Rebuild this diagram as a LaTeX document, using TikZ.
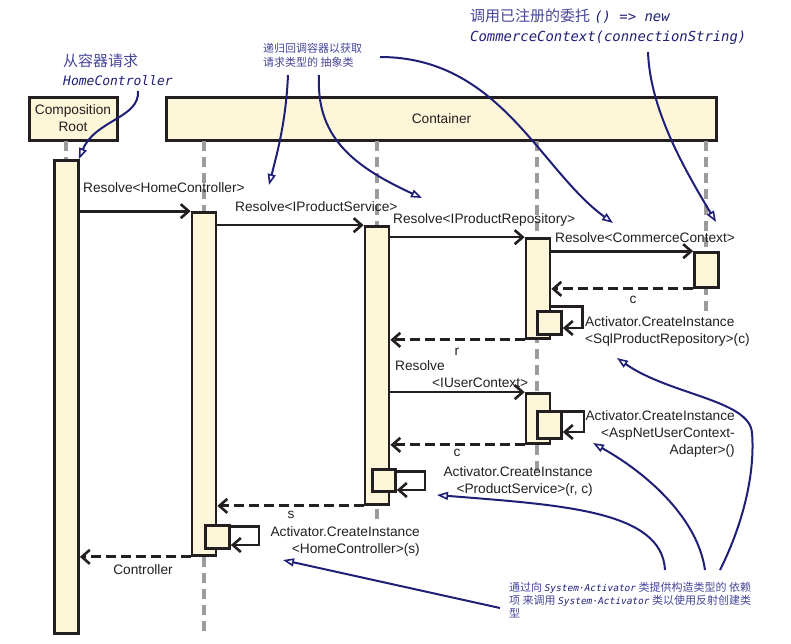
\documentclass[tikz,border=0pt]{standalone}
\usepackage{fontspec}
\setmainfont{Liberation Sans}
\newfontfamily\cjk{Noto Sans CJK SC}
\newfontfamily\hand{DejaVu Sans Mono}
\usepackage{tikz}
\usetikzlibrary{arrows.meta, positioning, calc}
\definecolor{ink}{HTML}{231F20}
\definecolor{cream}{HTML}{FDF6D8}
\definecolor{navy}{HTML}{1F1F78}
\definecolor{notetxt}{HTML}{45459A}
\definecolor{lifegray}{HTML}{9B9B9B}
\newcommand\handcode[2]{{\hand\itshape\fontsize{#1}{#1}\selectfont\color{navy}#2}}

\begin{document}
\begin{tikzpicture}[x=1pt, y=-1pt, font=\fontsize{13.7}{17}\selectfont, text=ink,
    head/.style={-{Straight Barb[length=8pt, width=14pt, line width=2.6pt]}},
    obj/.style={draw=ink, line width=3pt, fill=cream, align=center},
    bar/.style={draw=ink, line width=2.7pt, fill=cream, minimum width=24pt, inner sep=0pt},
    life/.style={draw=lifegray, line width=3.5pt, dash pattern=on 10pt off 6pt},
    call/.style={draw=ink, line width=2pt, head},
    ret/.style={draw=ink, line width=3pt, dash pattern=on 10pt off 5pt, head},
    self/.style={draw=ink, line width=2.7pt, head},
    lbl/.style={inner sep=0pt, align=left},
    note/.style={draw=navy, line width=2pt, -{Triangle[open, length=11pt, width=8pt, line width=1.6pt]}},
    notetext/.style={text=notetxt, align=left, inner sep=0pt, anchor=west}]

    \useasboundingbox (0,0) rectangle (791,643);

    \node[obj, minimum width=88pt, minimum height=43pt] (cr) at (73,118.5) {Composition\\Root};
    \node[obj, minimum width=550pt, minimum height=43pt] (ct) at (441.5,119) {Container};

    \draw[life] (66,141) -- (66,630);
    \draw[life] (204,141) -- (204,632);
    \draw[life] (377,141) -- (377,520);
    \draw[life] (537,141) -- (537,473);
    \draw[life] (706,141) -- (706,313);

    \node[bar, minimum height=473pt] (rootbar) at (66.5,397) {};
    \node[bar, minimum height=343pt] (hcbar) at (204,384) {};
    \node[bar, minimum height=278pt] (psbar) at (377,365.5) {};
    \node[bar, minimum height=100pt] (prbar) at (538,288.5) {};
    \node[bar, minimum height=35pt] (ccbar) at (706.5,270) {};
    \node[bar, minimum height=50pt] (ucbar) at (538,418.5) {};
    \node[bar, minimum height=23pt] (sqlnew) at (549.5,323) {};
    \node[bar, minimum height=27pt] (ucnew) at (549.5,425) {};
    \node[bar, minimum width=23pt, minimum height=22pt] (psnew) at (384,480.5) {};
    \node[bar, minimum height=23pt] (hcnew) at (217.5,537) {};

    \draw[call, line width=3pt] (rootbar.east |- hcbar.north) -- (hcbar.north west);
    \node[lbl, anchor=west] (rhc) at (83,188) {Resolve<HomeController>};
    \draw[call] (hcbar.east |- psbar.north) -- (psbar.north west);
    \node[lbl, anchor=west] (rps) at (235,207) {Resolve<IProductService>};
    \draw[call] (psbar.east |- prbar.north) -- (prbar.north west);
    \node[lbl, anchor=west] (rpr) at (393,220) {Resolve<IProductRepository>};
    \draw[call, line width=3pt] (prbar.east |- ccbar.north) -- (ccbar.north west);
    \node[lbl, anchor=west] (rcc) at (555,238) {Resolve<CommerceContext>};
    \draw[ret] (ccbar.south west) -- (prbar.east |- ccbar.south);
    \node[lbl] (retc1) at (633,300) {c};
    \draw[self] ([yshift=4pt]sqlnew.north -| prbar.east) -- ++(31,0) |- ([yshift=-5pt]sqlnew.east);
    \node[lbl, anchor=west] (newsql) at (585,331) {Activator.CreateInstance\\<SqlProductRepository>(c)};
    \draw[ret] (prbar.south west) -- (psbar.east |- prbar.south);
    \node[lbl] (retr) at (457,352) {r};
    \draw[call] (psbar.east |- ucbar.north) -- (ucbar.north west);
    \node[lbl, anchor=west] (ruc) at (395,374) {Resolve\\\hspace*{37pt}<IUserContext>};
    \draw[self] ([yshift=-1.5pt]ucnew.north east) -- ++(21,0) |- ([yshift=-7pt]ucnew.east);
    \node[lbl, anchor=east, align=right] (newuc) at (735,434) {Activator.CreateInstance\\<AspNetUserContext-\\Adapter>()};
    \draw[ret] (ucbar.south west) -- (psbar.east |- ucbar.south);
    \node[lbl] (retc2) at (457,453) {c};
    \draw[self] ([yshift=-3.5pt]psnew.north east) -- ++(28,0) |- ([yshift=-9.5pt]psnew.east);
    \node[lbl, anchor=east, align=right] (newps) at (593,481) {Activator.CreateInstance\\<ProductService>(r, c)};
    \draw[ret] (psbar.south west) -- (hcbar.east |- psbar.south);
    \node[lbl] (rets) at (291,515) {s};
    \draw[self] ([yshift=-2pt]hcnew.north east) -- ++(28,0) |- ([yshift=-8pt]hcnew.east);
    \node[lbl, anchor=east, align=right] (newhc) at (420,541) {Activator.CreateInstance\\<HomeController>(s)};
    \draw[ret] (hcbar.south west) -- (rootbar.east |- hcbar.south);
    \node[lbl] (retctl) at (143,570) {Controller};

    \node[notetext, font=\fontsize{15}{19}\selectfont] (asknote) at (63,69.5) {{\cjk 从容器请求}\\\handcode{13}{HomeController}};
    \node[notetext, font=\cjk\fontsize{11}{14}\selectfont] (recnote) at (263,55) {递归回调容器以获取\\请求类型的 抽象类};
    \node[notetext, font=\fontsize{15}{20}\selectfont] (delnote) at (470,27) {{\cjk 调用已注册的委托} \handcode{13.9}{() => new}\\\handcode{13.9}{CommerceContext(connectionString)}};
    \node[notetext, font=\cjk\fontsize{11}{13}\selectfont] (actnote) at (509,600) {通过向 \handcode{9.5}{System·Activator} 类提供构造类型的 依赖\\项 来调用 \handcode{9.5}{System·Activator} 类以使用反射创建类\\型};

    \coordinate (askfrom) at (138,91);
    \coordinate (recfromA) at (288,75);
    \coordinate (rectoA) at (269,185);
    \coordinate (recfromB) at (319,75);
    \coordinate (rectoB) at (422,198);
    \coordinate (recfromC) at (380,57);
    \coordinate (rectoC) at (613,223);
    \coordinate (delfrom) at (648,52);
    \coordinate (delto) at (716,222);
    \coordinate (actfromA) at (665,570);
    \coordinate (acttoA) at (437,495);
    \coordinate (actfromB) at (705,570);
    \coordinate (acttoB) at (593,443);
    \coordinate (actfromC) at (720,570);
    \coordinate (actmidC) at (752,433);
    \coordinate (acttoC) at (617,358);
    \coordinate (actfromD) at (500,608);
    \coordinate (acttoD) at (283,560);

    \draw[note] (askfrom) .. controls (140,118) and (95,120) .. ([xshift=-1pt]rootbar.north east);
    \draw[note] (recfromA) .. controls (286,120) and (278,150) .. (rectoA);
    \draw[note] (recfromB) .. controls (316,135) and (350,165) .. (rectoB);
    \draw[note] (recfromC) .. controls (500,57) and (540,170) .. (rectoC);
    \draw[note] (delfrom) .. controls (650,110) and (685,170) .. (delto);
    \draw[note] (actfromA) .. controls (662,510) and (560,505) .. (acttoA);
    \draw[note] (actfromB) .. controls (698,520) and (650,475) .. (acttoB);
    \draw[note] (actfromC) .. controls (745,520) and (755,470) .. (actmidC) .. controls (750,400) and (670,395) .. (acttoC);
    \draw[note] (actfromD) -- (acttoD);
\end{tikzpicture}
\end{document}
